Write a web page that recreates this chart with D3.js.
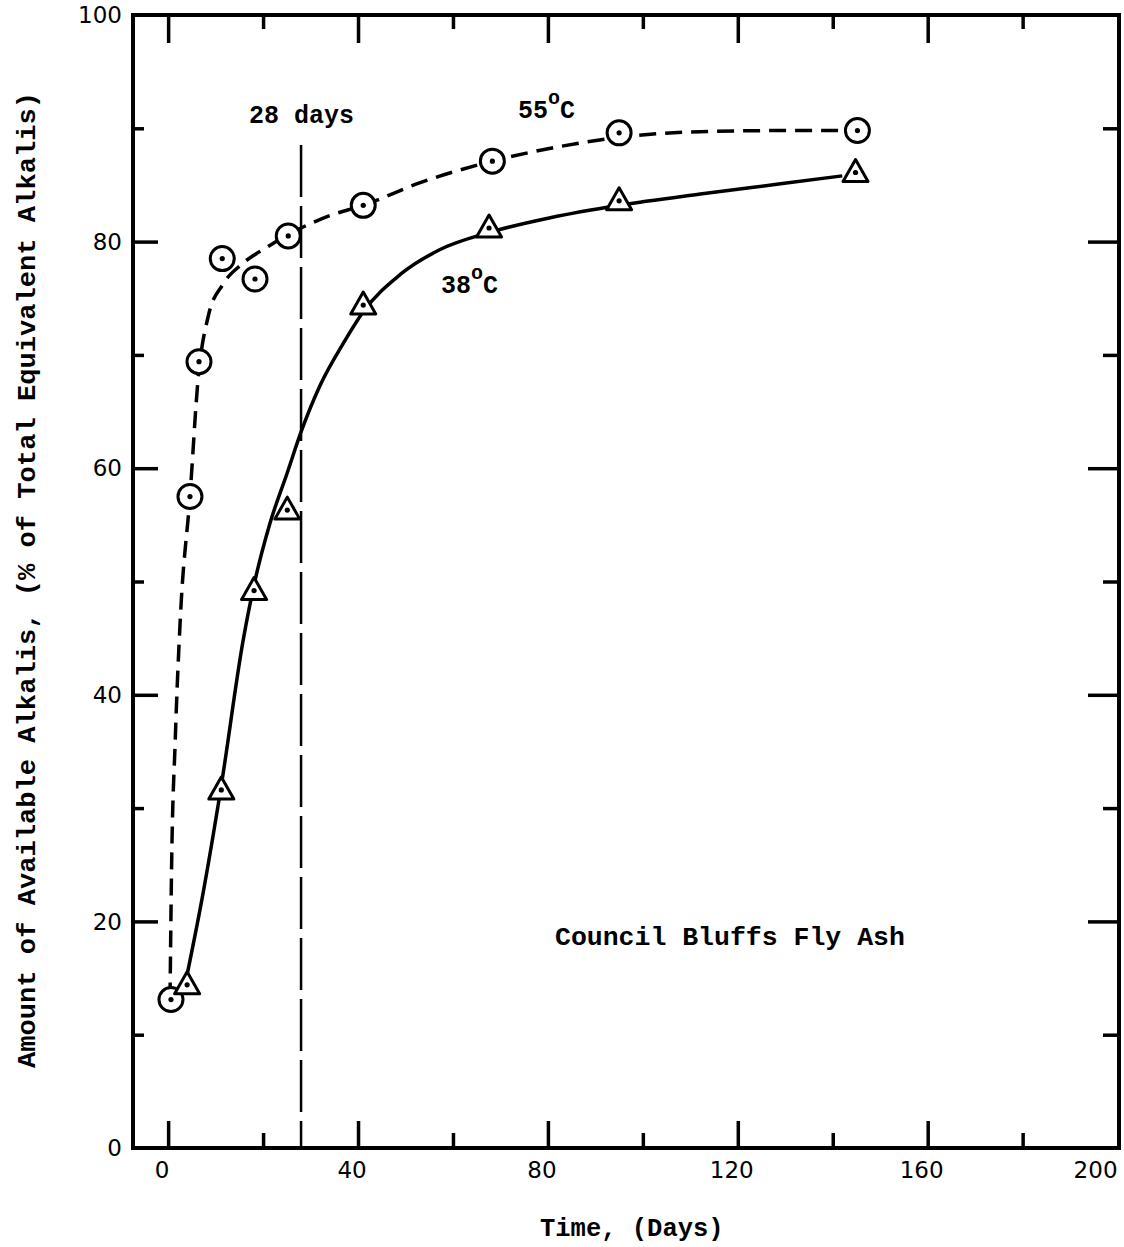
<!DOCTYPE html>
<html><head><meta charset="utf-8">
<script src="https://cdn.jsdelivr.net/npm/d3@7"></script>
<style>
html,body{margin:0;padding:0;background:#fff;}
svg{display:block;}
</style></head>
<body>
<svg id="chart" width="1124" height="1247"></svg>
<script>
// ---- Data ----
const xTickValues = [0, 40, 80, 120, 160, 200];
const yTickValues = [0, 20, 40, 60, 80, 100];
// 55°C measured points (circles)
const days55 = [0.6, 4.6, 6.5, 11.4, 18.3, 25.3, 41.1, 68.3, 95.0, 145.2];
const alk55  = [13.1, 57.5, 69.4, 78.5, 76.7, 80.5, 83.2, 87.1, 89.6, 89.8];
// 38°C measured points (triangles)
const days38 = [4.0, 11.2, 18.1, 25.1, 41.1, 67.6, 95.0, 144.8];
const alk38  = [14.4, 31.6, 49.2, 56.3, 74.4, 81.2, 83.6, 86.1];
// hand-drawn fitted curves
const fit55Days = [0.4, 0.7, 1.5, 2.6, 4.6, 6.3, 8.5, 11.5, 15.5, 20.4, 25.7, 34.1, 41.1, 53.1, 68.3, 82.6, 95.0, 112.1, 129.0, 141.6];
const fit55Alk  = [13.1, 24.0, 36.0, 47.0, 57.5, 67.8, 73.5, 76.2, 78.0, 79.4, 80.7, 82.3, 83.2, 85.2, 87.1, 88.4, 89.2, 89.7, 89.8, 89.8];
const fit38Days = [4.0, 7.1, 11.2, 15.8, 18.1, 21.5, 25.1, 28.0, 32.0, 37.3, 41.1, 48.9, 57.3, 67.6, 80.5, 95.0, 112.1, 129.0, 142.0];
const fit38Alk  = [15.3, 21.9, 32.0, 44.8, 49.7, 55.2, 59.6, 63.2, 67.3, 71.3, 73.8, 77.1, 79.3, 80.8, 82.1, 83.2, 84.2, 85.1, 85.8];
const markerDay = 28;

// ---- Layout ----
const svg = d3.select("#chart");
const x = d3.scaleLinear().domain([-7.4, 200.3]).range([133, 1119]);
const y = d3.scaleLinear().domain([0, 100]).range([1148, 15]);
const monoFont = "'Liberation Mono', 'Courier New', monospace";
const sansFont = "'DejaVu Sans', sans-serif";

// frame
const g = svg.append("g");
g.append("rect").attr("x", x(-7.4)).attr("y", y(100))
  .attr("width", x(200.3) - x(-7.4)).attr("height", y(0) - y(100))
  .attr("fill", "none").attr("stroke", "#000").attr("stroke-width", 4);

// ticks (inward) using axes
const xMinor = d3.range(0, 201, 20);
const yMinor = d3.range(0, 101, 10);
function tickLen(v, step, major, minor) { return (v % step === 0) ? major : minor; }

const bottomAxis = g.append("g").attr("transform", `translate(0,${y(0)})`)
  .call(d3.axisBottom(x).tickValues(xMinor.filter(v => v > -7 && v < 200)).tickFormat("").tickSizeOuter(0));
bottomAxis.select(".domain").remove();
bottomAxis.selectAll(".tick line").attr("y2", d => -tickLen(d, 40, 27, 15)).attr("stroke-width", 3.5);

const topAxis = g.append("g").attr("transform", `translate(0,${y(100)})`)
  .call(d3.axisTop(x).tickValues(xMinor.filter(v => v < 200)).tickFormat("").tickSizeOuter(0));
topAxis.select(".domain").remove();
topAxis.selectAll(".tick line").attr("y2", d => tickLen(d, 40, 28, 14)).attr("stroke-width", 3.5);

const leftAxis = g.append("g").attr("transform", `translate(${x(-7.4)},0)`)
  .call(d3.axisLeft(y).tickValues(yMinor.filter(v => v > 0 && v < 100)).tickFormat("").tickSizeOuter(0));
leftAxis.select(".domain").remove();
leftAxis.selectAll(".tick line").attr("x2", d => tickLen(d, 20, 25, 11)).attr("stroke-width", 3.5);

const rightAxis = g.append("g").attr("transform", `translate(${x(200.3)},0)`)
  .call(d3.axisRight(y).tickValues(yMinor.filter(v => v > 0 && v < 100)).tickFormat("").tickSizeOuter(0));
rightAxis.select(".domain").remove();
rightAxis.selectAll(".tick line").attr("x2", d => -tickLen(d, 20, 31, 16)).attr("stroke-width", 3.5);

// tick labels
g.append("g").selectAll("text").data(xTickValues).join("text")
  .attr("x", d => d === 200 ? x(d) - 22 : x(d) - 6).attr("y", 1178)
  .attr("text-anchor", "middle").attr("font-family", sansFont).attr("font-size", 23)
  .text(d => d);
g.append("g").selectAll("text").data(yTickValues).join("text")
  .attr("x", 122).attr("y", d => y(d)).attr("dy", "0.36em")
  .attr("text-anchor", "end").attr("font-family", sansFont).attr("font-size", 23)
  .text(d => d);

// 28 days vertical dashed line
g.append("line").attr("x1", x(markerDay)).attr("x2", x(markerDay))
  .attr("y1", 145).attr("y2", y(0))
  .attr("stroke", "#000").attr("stroke-width", 2.5).attr("stroke-dasharray", "52,9");

// curves
const line = d3.line().x(d => x(d[0])).y(d => y(d[1])).curve(d3.curveMonotoneX);
g.append("path").attr("d", line(d3.zip(fit55Days, fit55Alk)))
  .attr("fill", "none").attr("stroke", "#000").attr("stroke-width", 3.5)
  .attr("stroke-dasharray", "17,9");
g.append("path").attr("d", line(d3.zip(fit38Days, fit38Alk)))
  .attr("fill", "none").attr("stroke", "#000").attr("stroke-width", 3.5);

// markers 55 (circle with dot)
const p55 = g.append("g").selectAll("g").data(d3.zip(days55, alk55)).join("g")
  .attr("transform", d => `translate(${x(d[0])},${y(d[1])})`);
p55.append("circle").attr("r", 12).attr("fill", "#fff").attr("stroke", "#000").attr("stroke-width", 3);
p55.append("circle").attr("r", 2.6).attr("fill", "#000");

// markers 38 (triangle with dot)
const p38 = g.append("g").selectAll("g").data(d3.zip(days38, alk38)).join("g")
  .attr("transform", d => `translate(${x(d[0])},${y(d[1])})`);
p38.append("path").attr("d", "M0,-13L12.5,9L-12.5,9Z").attr("fill", "#fff")
  .attr("stroke", "#000").attr("stroke-width", 3).attr("stroke-linejoin", "round");
p38.append("circle").attr("r", 2.6).attr("fill", "#000");

// annotations
function typed(xp, yp, txt, size) {
  return g.append("text").attr("x", xp).attr("y", yp).attr("font-family", monoFont)
    .attr("font-weight", "bold").attr("font-size", size || 25).text(txt);
}
typed(249, 123, "28 days");
const t55 = typed(518, 118, "55");
t55.append("tspan").attr("dy", -14).attr("font-size", 20).text("o");
t55.append("tspan").attr("dy", 14).text("C");
const t38 = typed(441, 293, "38");
t38.append("tspan").attr("dy", -14).attr("font-size", 20).text("o");
t38.append("tspan").attr("dy", 14).text("C");
typed(555, 945, "Council Bluffs Fly Ash", 26.5);
typed(540, 1236, "Time, (Days)", 25.5);

// y axis title
g.append("text").attr("transform", "translate(35,580) rotate(-90)")
  .attr("text-anchor", "middle").attr("font-family", monoFont).attr("font-weight", "bold")
  .attr("font-size", 25).attr("textLength", 976).attr("lengthAdjust", "spacingAndGlyphs")
  .text("Amount of Available Alkalis, (% of Total Equivalent Alkalis)");
</script>
</body></html>
